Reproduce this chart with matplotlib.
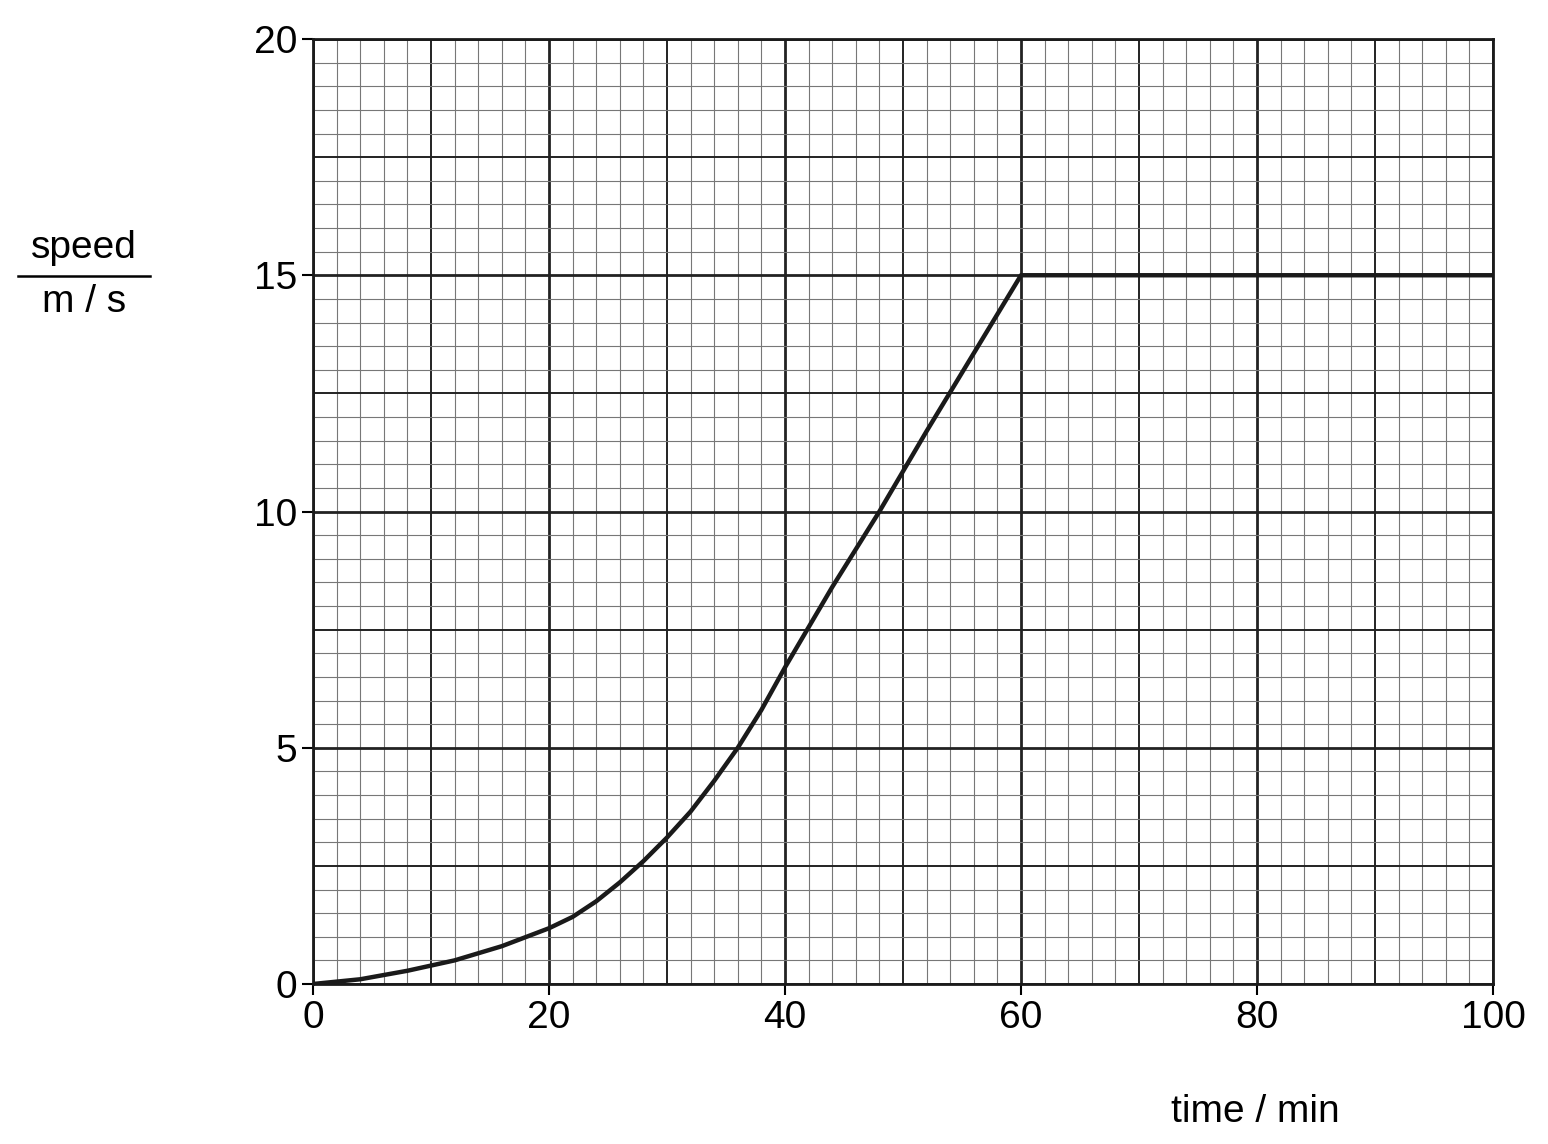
import numpy as np
import matplotlib.pyplot as plt
from matplotlib.ticker import MultipleLocator

plt.rcParams['font.family'] = ['Liberation Sans', 'DejaVu Sans']

time_min = [0, 4, 8, 12, 16, 20, 22, 24, 26, 28, 30, 32, 34, 36, 38, 40,
            44, 48, 52, 56, 60, 100]
speed_ms = [0, 0.1, 0.28, 0.5, 0.8, 1.18, 1.42, 1.75, 2.15, 2.6, 3.1, 3.65,
            4.3, 5.0, 5.8, 6.7, 8.4, 10.0, 11.7, 13.35, 15.0, 15.0]

fig = plt.figure(figsize=(15.48, 11.44), dpi=100)
ax = fig.add_axes([313/1548, 1 - 984/1144, 1180/1548, 945/1144])
ax.set_xlim(0, 100)
ax.set_ylim(0, 20)

for x in np.arange(0, 101, 2):
    lw = 2.0 if x % 20 == 0 else (1.4 if x % 10 == 0 else 0.8)
    c = '#222222' if x % 10 == 0 else '#777777'
    ax.axvline(x, color=c, lw=lw, zorder=1)
for y in np.arange(0, 20.01, 0.5):
    lw = 2.0 if y % 5 == 0 else (1.4 if y % 2.5 == 0 else 0.8)
    c = '#222222' if y % 2.5 == 0 else '#777777'
    ax.axhline(y, color=c, lw=lw, zorder=1)

ax.plot(time_min, speed_ms, color='#1a1a1a', lw=3.2, zorder=3,
        solid_joinstyle='round')

ax.xaxis.set_major_locator(MultipleLocator(20))
ax.yaxis.set_major_locator(MultipleLocator(5))
ax.tick_params(labelsize=28, length=8, width=1.5, direction='out')
for s in ax.spines.values():
    s.set_linewidth(2)
    s.set_color('#1a1a1a')

fig.text(1255/1548, 1 - 1112/1144, 'time / min', fontsize=28, ha='center', va='center')
fig.text(84/1548, 1 - 248/1144, 'speed', fontsize=28, ha='center', va='center')
fig.text(84/1548, 1 - 302/1144, 'm / s', fontsize=28, ha='center', va='center')
fig.add_artist(plt.Line2D([18/1548, 150/1548], [1 - 276/1144] * 2, color='black', lw=1.8))

fig.savefig('out.png', dpi=100)
